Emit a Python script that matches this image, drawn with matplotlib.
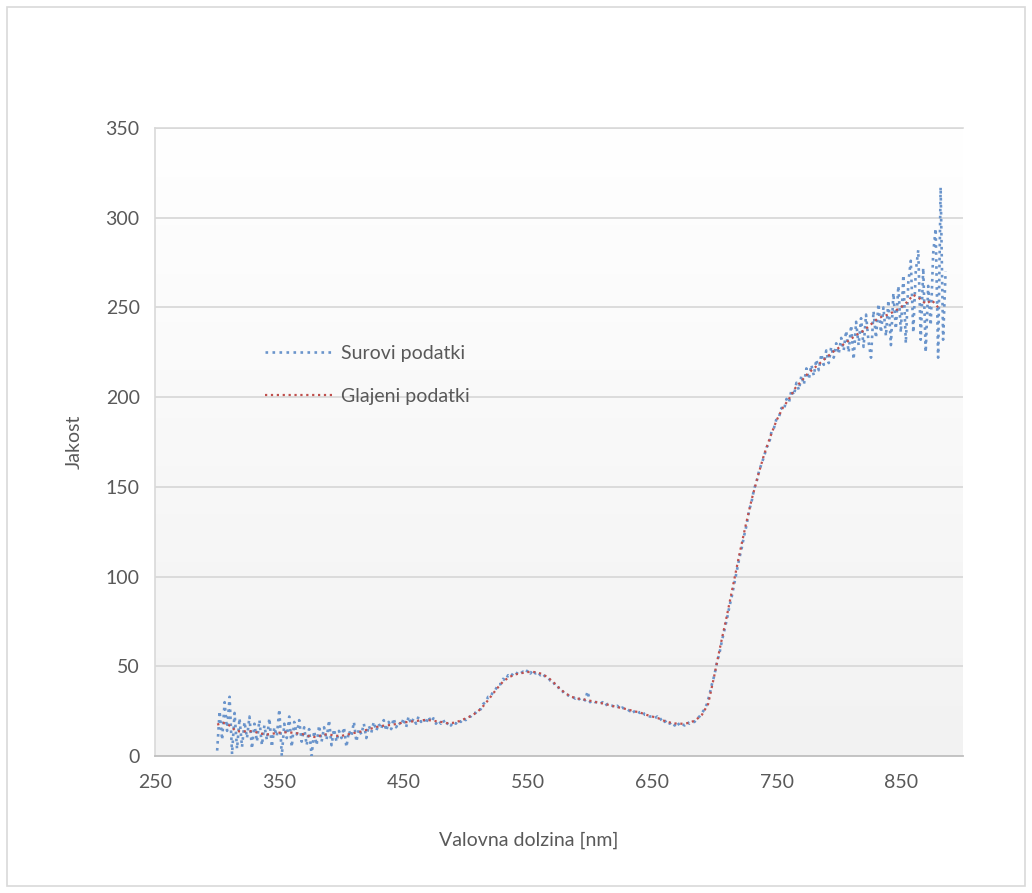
import numpy as np
import matplotlib
matplotlib.use('Agg')
import matplotlib.pyplot as plt
from matplotlib.patches import Rectangle

''' COMMENTS:

    Surovi in glajeni spekter (Excel style line chart).
'''

matplotlib.rcParams['font.family'] = ['Lato', 'DejaVu Sans']

######## DATA ######################
# Raw spectrum, every 2 nm from 300 to 886 nm.
raw_wl = np.arange(300, 888, 2)
raw_val = [
    3, 25, 9, 30, 14, 33, 1, 24, 4, 21,
    5, 19, 10, 22, 4, 18, 8, 20, 6, 17,
    9, 21, 5, 16, 11, 26, 0, 18, 10, 22,
    5, 19, 12, 20, 8, 16, 6, 15, 0, 14,
    6, 17, 8, 16, 9, 20, 6, 15, 8, 14,
    10, 16, 5, 14, 11, 19, 8, 15, 12, 18,
    10, 17, 13, 19, 14, 18, 15, 20, 14, 19,
    15, 21, 16, 19, 17, 21, 16, 22, 18, 21,
    18, 22, 19, 21, 18, 22, 19, 21, 18, 20,
    18, 20, 17, 19, 17, 19, 18, 20, 19, 21,
    20, 22, 22, 24, 24, 26, 26, 29, 30, 33,
    33, 36, 37, 40, 40, 43, 42, 45, 44, 46,
    45, 47, 46, 47, 46, 48, 46, 48, 46, 47,
    45, 46, 44, 44, 42, 42, 39, 39, 36, 36,
    34, 34, 33, 33, 32, 33, 31, 32, 31, 36,
    30, 31, 30, 30, 29, 30, 28, 29, 28, 28,
    27, 28, 26, 27, 26, 26, 25, 26, 24, 25,
    24, 25, 23, 23, 22, 22, 21, 22, 20, 21,
    19, 20, 18, 19, 17, 19, 17, 18, 17, 19,
    18, 19, 19, 21, 22, 24, 26, 29, 34, 40,
    45, 52, 57, 64, 70, 76, 83, 89, 96, 103,
    110, 116, 123, 129, 137, 142, 149, 153, 159, 163,
    167, 172, 174, 181, 183, 188, 189, 194, 193, 199,
    197, 204, 201, 208, 204, 212, 207, 216, 210, 218,
    212, 221, 215, 224, 218, 226, 219, 228, 222, 230,
    224, 233, 226, 237, 225, 240, 221, 242, 229, 244,
    228, 246, 231, 222, 248, 233, 252, 236, 250, 234,
    254, 229, 258, 238, 262, 236, 268, 230, 264, 276,
    236, 270, 282, 232, 272, 225, 262, 240, 280, 294,
    222, 317, 232, 270,
]

# Smoothed spectrum, every 5 nm from 300 to 880 nm.
smooth_wl = np.arange(300, 885, 5)
smooth_val = [
    17.5, 18.5, 17, 14, 13.5, 14, 13.5, 12.5, 12, 12.5,
    13, 13.2, 13, 12.6, 12, 10.8, 10.5, 12, 12, 11.3,
    11.2, 12, 12.8, 13.5, 14.5, 15.5, 16.5, 17, 17.3, 18,
    18.7, 19.1, 19.5, 20, 20, 19.5, 19, 18.3, 18.5, 19.5,
    21, 22.5, 25, 28.5, 33, 37.5, 41.5, 44, 45.5, 46.2,
    46.8, 46.8, 46, 44.3, 41.5, 38, 35, 33, 32, 31.5,
    30.8, 30, 29.3, 28.5, 27.5, 26.8, 26, 25, 24.3, 23,
    22, 21, 19.5, 18.5, 18, 18, 18.5, 20, 23, 29,
    45, 62, 78, 95, 112, 128, 143, 156, 168, 178,
    187, 194, 199, 205, 209, 213, 216, 219, 222, 225,
    227.5, 230, 232.5, 235, 237, 240, 243, 245, 246, 248,
    250, 253, 257, 255, 252, 254, 250,
]

x_ticks = [250, 350, 450, 550, 650, 750, 850]
y_ticks = [0, 50, 100, 150, 200, 250, 300, 350]
####################################

text_col = '#595959'
grid_col = '#d9d9d9'

fig = plt.figure(figsize=(10.32, 8.93), dpi=100)
ax = fig.add_axes([155 / 1032, 1 - 756 / 893, 808 / 1032, 628 / 893])

# Outer chart border.
fig.patches.append(Rectangle((7 / 1032, 7 / 893), 1018 / 1032, 879 / 893,
                             transform=fig.transFigure, fill=False,
                             edgecolor=grid_col, lw=1.2))

ax.set_xlim(250, 900)
ax.set_ylim(0, 350)

# Plot area gradient (white top -> light gray bottom).
grad = np.linspace(1.0, 0.0, 256).reshape(-1, 1)
shade = 0.949 + 0.051 * grad
img = np.dstack([shade, shade, shade])
ax.imshow(img, extent=[250, 900, 0, 350], aspect='auto', zorder=0,
          interpolation='bicubic')

for yt in y_ticks[1:]:
    ax.axhline(yt, color=grid_col, lw=1.3, zorder=1)

ax.plot(raw_wl, raw_val, color='#6a94cb', ls=':', lw=1.9, zorder=3,
        label='Surovi podatki')
ax.plot(smooth_wl, smooth_val, color='#c0504d', ls=':', lw=1.6, zorder=4,
        label='Glajeni podatki')

ax.set_xticks(x_ticks)
ax.set_yticks(y_ticks)
ax.tick_params(axis='both', length=0, labelsize=14, labelcolor=text_col)
ax.tick_params(axis='x', pad=13)
ax.tick_params(axis='y', pad=11)

for side in ['left', 'top']:
    ax.spines[side].set_color(grid_col)
    ax.spines[side].set_linewidth(1.2)
ax.spines['right'].set_visible(False)
ax.spines['bottom'].set_color('#bfbfbf')
ax.spines['bottom'].set_linewidth(1.3)

ax.set_xlabel('Valovna dolzina [nm]', fontsize=14, color=text_col)
ax.set_ylabel('Jakost', fontsize=14, color=text_col)
ax.xaxis.set_label_coords(0.463, -0.12)
ax.yaxis.set_label_coords(-0.09, 0.5)

leg = ax.legend(loc='upper left', bbox_to_anchor=(0.136, 0.655), frameon=False,
                fontsize=14, handlelength=3.5, handletextpad=0.4,
                labelspacing=1.35, borderpad=0, borderaxespad=0)
for t in leg.get_texts():
    t.set_color(text_col)

fig.savefig('out.png', dpi=100)
